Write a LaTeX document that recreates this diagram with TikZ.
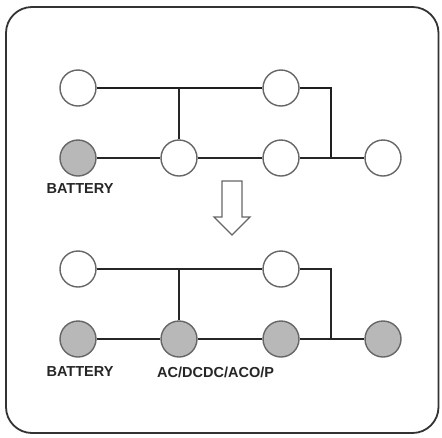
\documentclass[tikz,border=0pt]{standalone}
\usepackage{fontspec}
\setmainfont{Liberation Sans}
\begin{document}
\begin{tikzpicture}[x=1pt,y=-1pt,
  unit/.style={circle,draw=black!60,line width=1.4pt,minimum size=36pt,inner sep=0pt,fill=white},
  batt/.style={unit,fill=black!28},
  wire/.style={draw=black!85,line width=2pt},
  wirethick/.style={draw=black!88,line width=2.6pt},
  lbl/.style={font=\fontsize{14.5}{16}\selectfont\bfseries,text=black!85,inner sep=0pt}]
\useasboundingbox (0,0) rectangle (442,437);
\draw[black!80,line width=1.8pt,rounded corners=26pt] (6,7) rectangle (438.5,433);
% top diagram
\node[unit] (a1) at (78,88) {};
\node[unit] (b1) at (281,88) {};
\node[batt] (c1) at (78,158) {};
\node[unit] (d1) at (179,158) {};
\node[unit] (e1) at (281,158) {};
\node[unit] (f1) at (383,158) {};
\coordinate (j1) at (331,158);
\coordinate (t1) at (179,88);
\draw[wirethick] (a1) -- (b1);
\draw[wirethick] (b1.east) -| (j1);
\draw[wire] (t1) -- (d1);
\draw[wire] (c1) -- (d1);
\draw[wire] (d1) -- (e1);
\draw[wire] (e1) -- (f1);
\node[lbl] (l1) at (80,189) {BATTERY};
% arrow
\draw[black!60,line width=1.2pt,fill=white] (222,181) -- (242,181) -- (242,217) -- (250,217) -- (232,235) -- (214,217) -- (222,217) -- cycle;
% bottom diagram
\node[unit] (a2) at (78,269) {};
\node[unit] (b2) at (281,269) {};
\node[batt] (c2) at (78,339) {};
\node[batt] (d2) at (179,339) {};
\node[batt] (e2) at (281,339) {};
\node[batt] (f2) at (383,339) {};
\coordinate (j2) at (331,339);
\coordinate (t2) at (179,269);
\draw[wire] (a2) -- (b2);
\draw[wire] (b2.east) -| (j2);
\draw[wire] (t2) -- (d2);
\draw[wire] (c2) -- (d2);
\draw[wire] (d2) -- (e2);
\draw[wire] (e2) -- (f2);
\node[lbl] (l2) at (80,372) {BATTERY};
\node[lbl,anchor=west] (l3) at (157,372) {AC/DCDC/ACO/P};
\end{tikzpicture}
\end{document}
